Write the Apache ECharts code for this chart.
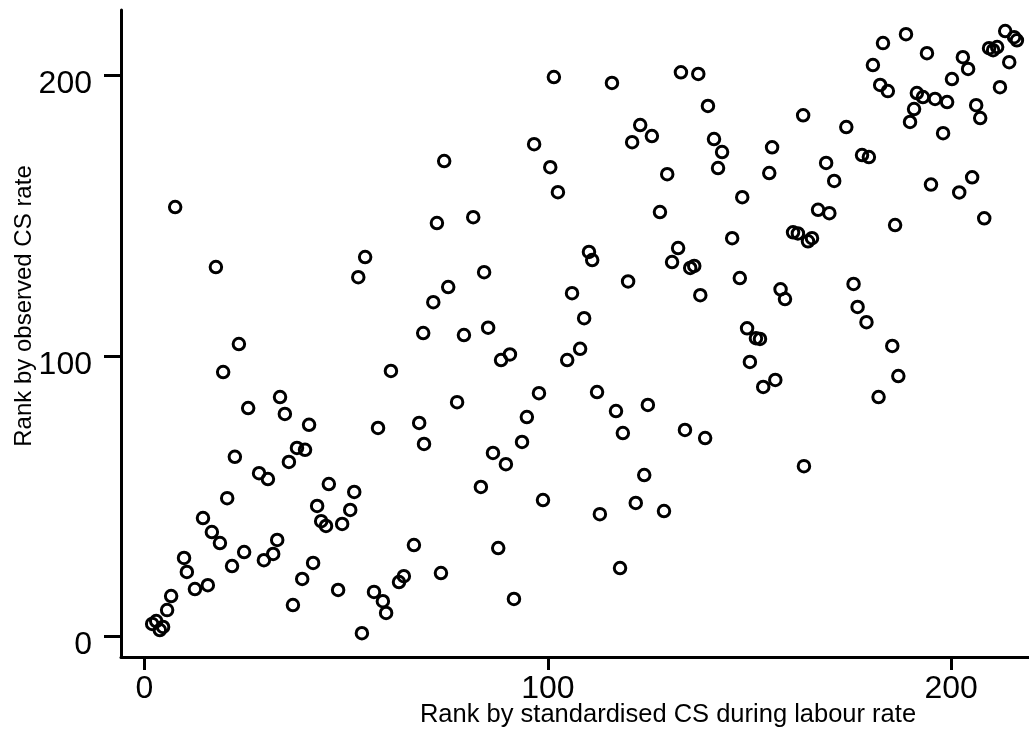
<!DOCTYPE html>
<html>
<head>
<meta charset="utf-8">
<script src="https://cdn.jsdelivr.net/npm/echarts@6/dist/echarts.min.js"></script>
<style>
  html, body { margin: 0; padding: 0; background: #fff; }
  #chart { width: 1029px; height: 730px; }
</style>
</head>
<body>
<div id="chart"></div>
<script>
// axis titles and ticks
const xTitle = 'Rank by standardised CS during labour rate'
const yTitle = 'Rank by observed CS rate'
const tickValues = [0, 100, 200]

// [rank by standardised CS, rank by observed CS]
const rankPairs = [
  [1.9, 4.5], [2.9, 5.5], [3.8, 2.3], [4.6, 3.4], [5.6, 9.4], [6.6, 14.4], [9.8, 28.0], [10.5, 23.0], [12.5, 16.9], [15.7, 18.3],
  [7.6, 153.0], [17.7, 131.6], [23.4, 104.2], [19.5, 94.2], [25.7, 81.4], [22.4, 64.0], [20.5, 49.3], [14.5, 42.2], [16.7, 37.2], [18.7, 33.3],
  [24.7, 30.1], [21.7, 25.1], [29.6, 27.2], [31.9, 29.4], [32.9, 34.4], [28.4, 58.2], [30.6, 56.1], [33.6, 85.3], [34.8, 79.3], [40.8, 75.4],
  [37.8, 67.2], [39.8, 66.5], [35.8, 62.2], [45.7, 54.3], [52.0, 51.5], [42.8, 46.5], [51.0, 45.1], [43.8, 41.1], [45.0, 39.4], [49.0, 40.1],
  [41.8, 26.2], [39.1, 20.5], [48.0, 16.6], [36.8, 11.2], [53.9, 1.2], [56.9, 15.9], [59.1, 12.6], [59.9, 8.4], [63.1, 19.4], [64.3, 21.5],
  [66.8, 32.6], [61.1, 94.6], [57.9, 74.3], [68.1, 76.1], [69.3, 68.6], [77.5, 83.5], [88.4, 98.5], [104.8, 98.5], [97.8, 86.7], [112.2, 87.1],
  [116.9, 80.3], [124.8, 82.5], [94.8, 78.2], [93.6, 69.3], [118.6, 72.5], [134.0, 73.6], [139.0, 70.7], [86.4, 65.4], [89.6, 61.4], [123.9, 57.5],
  [83.4, 53.3], [98.8, 48.6], [112.9, 43.6], [121.8, 47.6], [128.8, 44.7], [87.7, 31.5], [73.5, 22.6], [117.9, 24.4], [91.6, 13.4],
  [163.3, 185.7], [174.0, 181.5], [183.1, 211.4], [188.8, 214.6], [180.6, 203.6], [182.4, 196.5], [184.3, 194.3], [194.0, 207.8], [191.5, 193.6], [193.0, 192.2],
  [196.0, 191.5], [199.0, 190.4], [190.8, 187.9], [189.8, 183.3], [198.0, 179.3], [200.2, 198.6], [202.9, 206.4], [204.2, 202.2], [206.2, 189.3], [207.2, 184.7],
  [209.4, 209.6], [210.4, 208.9], [211.4, 210.0], [213.4, 215.7], [215.6, 213.5], [216.3, 212.4], [214.4, 204.6], [212.1, 195.7],
  [53.0, 128.0], [54.7, 135.2], [72.5, 147.3], [74.3, 169.4], [81.5, 149.4], [75.3, 124.5], [79.2, 107.4], [84.2, 129.8], [71.6, 119.1], [69.1, 108.1],
  [85.2, 110.0], [90.6, 100.5], [101.5, 199.3], [96.6, 175.4], [100.6, 167.2], [102.5, 158.3], [115.9, 197.2], [108.0, 102.5], [106.0, 122.3], [109.0, 113.4],
  [110.2, 137.0], [111.0, 134.1], [119.9, 126.5], [120.9, 176.1], [122.9, 182.2], [125.8, 178.3], [129.6, 164.7], [127.8, 151.2], [130.8, 133.4], [132.3, 138.4],
  [135.3, 131.3], [136.3, 132.0], [133.0, 201.0], [137.3, 200.4], [139.7, 189.0], [141.2, 177.2], [142.2, 166.9], [143.2, 172.6], [137.8, 121.6], [145.7, 141.9],
  [147.6, 127.7], [148.2, 156.5], [149.4, 109.8], [150.1, 97.8], [151.6, 106.3], [152.6, 106.0], [153.4, 88.9], [156.4, 91.4], [154.9, 165.1], [155.6, 174.3],
  [157.7, 123.7], [158.8, 120.2], [160.8, 144.0], [162.0, 143.6], [164.5, 140.8], [165.5, 141.9], [163.5, 60.7], [167.0, 152.0], [169.8, 150.8], [169.0, 168.7],
  [171.0, 162.3], [175.8, 125.6], [176.8, 117.4], [179.0, 112.0], [177.9, 171.5], [179.6, 170.8], [182.0, 85.3], [185.4, 103.5], [186.9, 92.8], [186.1, 146.6],
  [195.0, 161.0], [202.0, 158.2], [205.2, 163.6], [208.2, 149.0]
]

const font = '"Liberation Sans", Arial, Helvetica, sans-serif'
const chart = echarts.init(document.getElementById('chart'), null, { renderer: 'canvas' })

chart.setOption({
  animation: false,
  backgroundColor: '#fff',
  grid: { left: 121, right: 0, top: 10, bottom: 73 },
  xAxis: {
    type: 'value',
    min: -5.83,
    max: 219.3,
    axisLine: { show: true, onZero: false, lineStyle: { color: '#000', width: 3 } },
    axisTick: { show: true, customValues: tickValues, length: 13, lineStyle: { color: '#000', width: 3 } },
    axisLabel: { customValues: tickValues, color: '#000', fontSize: 32, fontFamily: font, margin: 16 },
    splitLine: { show: false }
  },
  yAxis: {
    type: 'value',
    min: -7.3,
    max: 223.2,
    axisLine: { show: true, onZero: false, lineStyle: { color: '#000', width: 3 } },
    axisTick: { show: true, customValues: tickValues, length: 17, lineStyle: { color: '#000', width: 3 } },
    axisLabel: {
      customValues: tickValues, color: '#000', fontSize: 32, fontFamily: font, margin: 29,
      verticalAlign: 'top', lineHeight: 18
    },
    splitLine: { show: false }
  },
  graphic: [
    {
      type: 'text', x: 668, y: 715,
      style: { text: xTitle, fill: '#000', font: '25.5px ' + font, align: 'center', verticalAlign: 'middle' }
    },
    {
      type: 'text', x: 24, y: 306, rotation: Math.PI / 2,
      style: { text: yTitle, fill: '#000', font: '24px ' + font, align: 'center', verticalAlign: 'middle' }
    }
  ],
  series: [{
    type: 'scatter',
    symbol: 'circle',
    symbolSize: 11.5,
    data: rankPairs,
    itemStyle: { color: 'rgba(0,0,0,0)', borderColor: '#000', borderWidth: 3, opacity: 1 },
    emphasis: { disabled: true }
  }]
})
</script>
</body>
</html>
